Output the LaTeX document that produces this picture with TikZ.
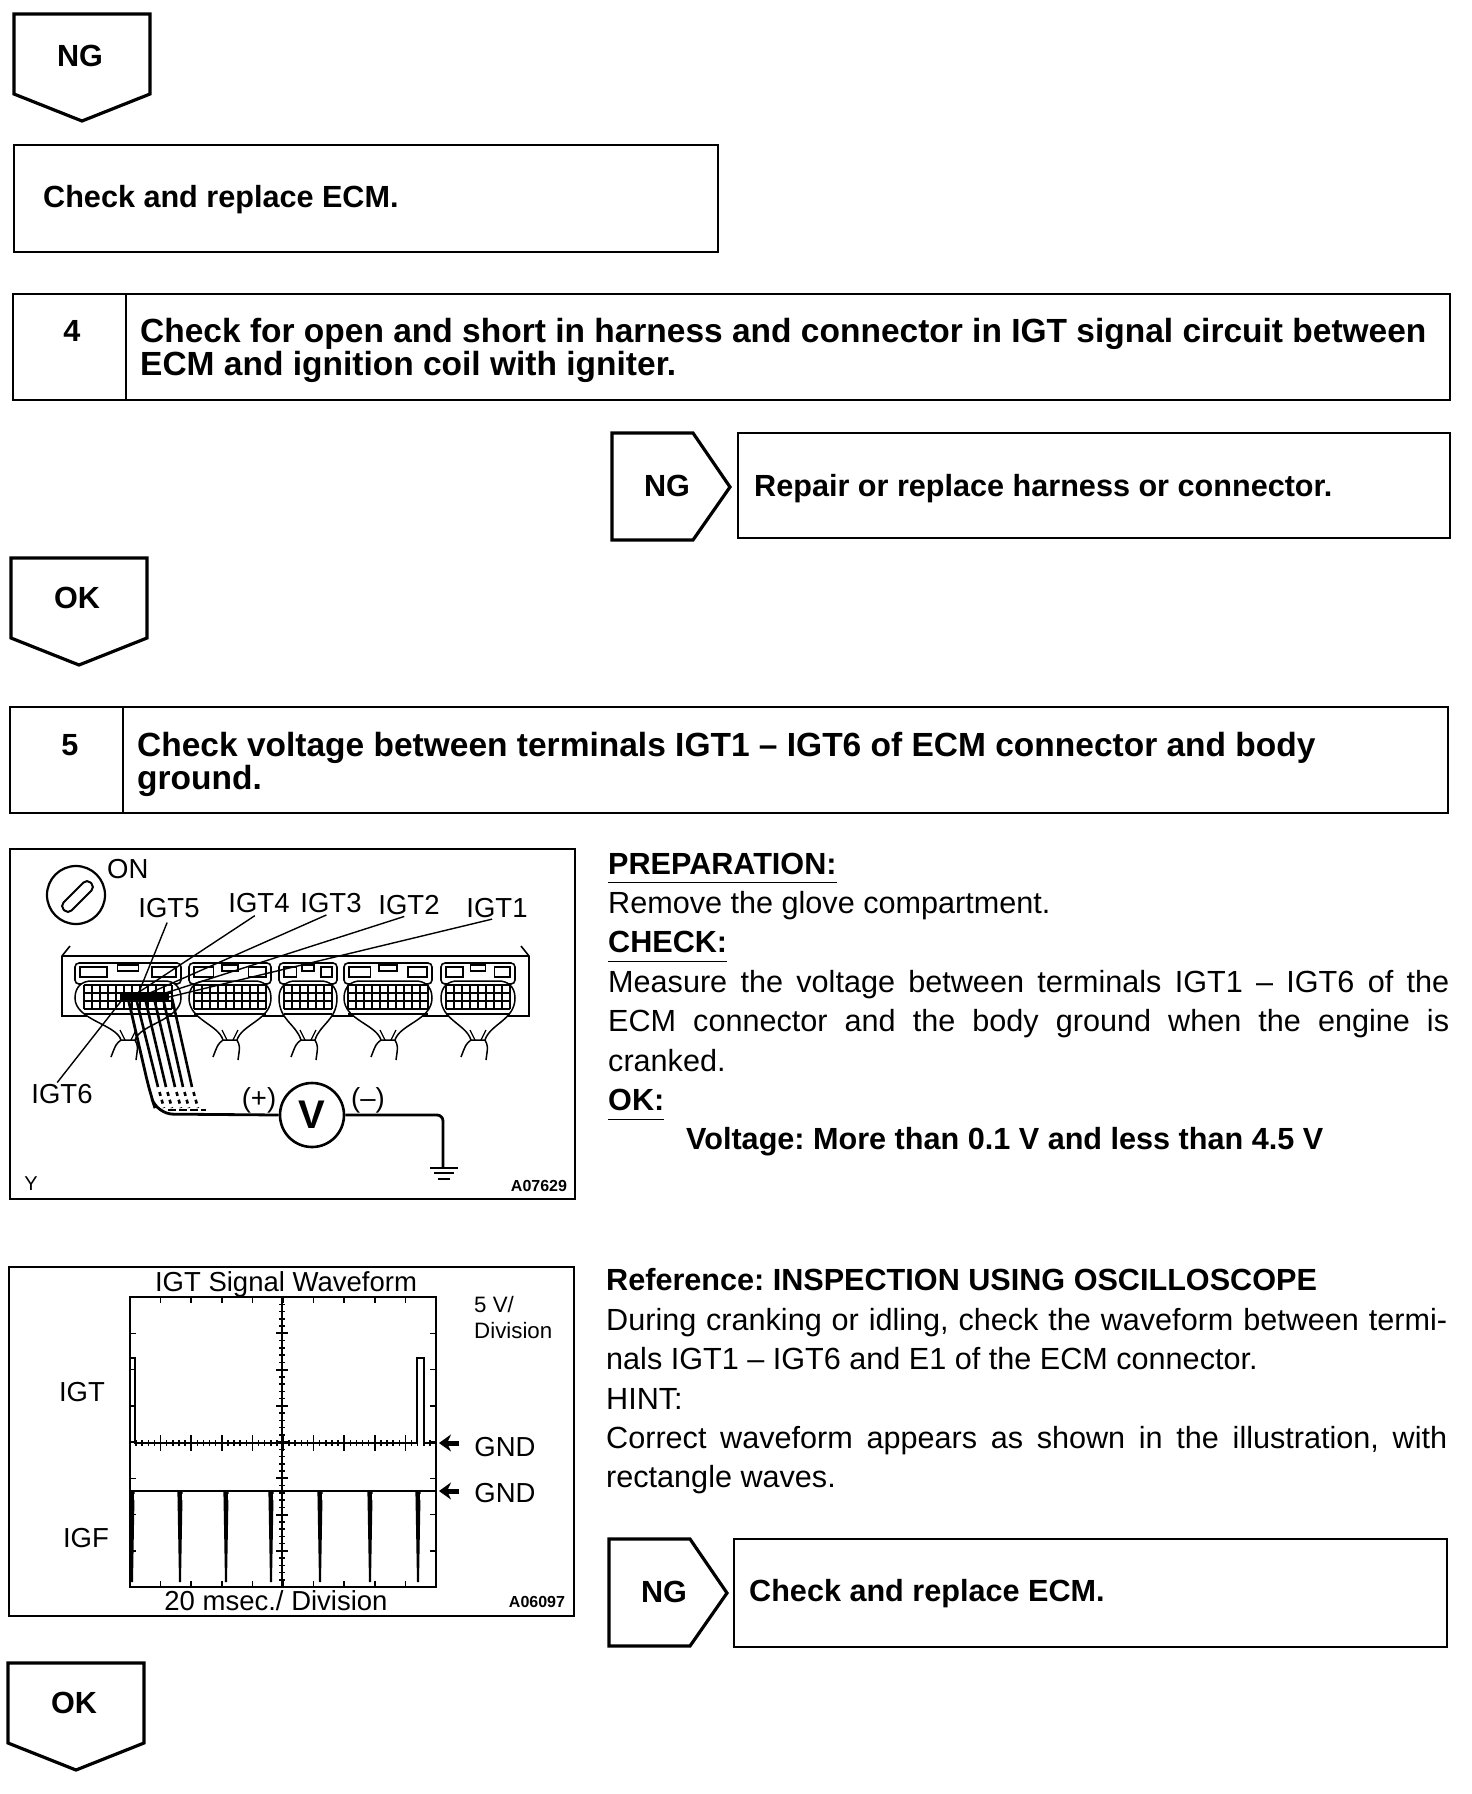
\documentclass[tikz,border=0pt]{standalone}
\usepackage{fontspec}
\setmainfont{Liberation Sans}
\frenchspacing
\usetikzlibrary{arrows.meta, positioning, calc}

\newcommand{\hdrline}[1]{\underline{#1\rule[-7pt]{0pt}{7pt}}}
\newcommand{\fullline}[1]{\makebox[841pt][s]{#1}}

\begin{document}
\begin{tikzpicture}[
    x=1pt, y=-1pt,
    flowbox/.style={rectangle, draw, line width=2.6pt, anchor=north west, inner sep=0pt, outer sep=0pt},
    flowline/.style={draw, line width=2.6pt},
    tagline/.style={draw, line width=3.2pt, line join=miter},
    headtext/.style={font=\fontsize{30.6}{33}\selectfont\bfseries, anchor=west, inner sep=0pt},
    steptext/.style={font=\fontsize{33.5}{33}\selectfont\bfseries, anchor=west, inner sep=0pt},
    tagtext/.style={font=\fontsize{30.6}{33}\selectfont\bfseries, inner sep=0pt},
    bodytext/.style={font=\fontsize{30.6}{39.4}\selectfont, anchor=north west, align=left, inner sep=0pt},
    figtext/.style={font=\fontsize{27.5}{30}\selectfont, inner sep=0pt},
    figcode/.style={font=\fontsize{16}{18}\selectfont\bfseries, inner sep=0pt},
    leader/.style={line width=1.4pt},
    scopeline/.style={line width=1.5pt}
]
\useasboundingbox (0,0) rectangle (1472,1794);

% Down tags
\foreach \px/\py/\ty/\lab in {14/14/56/NG, 11/558/598/OK, 8/1663/1703/OK} {
    \draw[tagline] (\px,\py) -- (\px+136,\py) -- (\px+136,\py+80) -- (\px+68,\py+107) -- (\px,\py+80) -- cycle;
    \node[tagtext] (down\py) at (\px+66,\ty) {\lab};
}

% Right tags
\foreach \px/\py in {612/433, 609/1539} {
    \draw[tagline] (\px,\py) -- (\px+81,\py) -- (\px+118,\py+54) -- (\px+81,\py+107) -- (\px,\py+107) -- cycle;
    \node[tagtext] (right\py) at (\px+55,\py+53) {NG};
}

% Boxes
\node[flowbox, minimum width=704pt, minimum height=107pt] (ecmbox) at (14,145) {};
\node[headtext, right=29pt] at ([yshift=-1pt]ecmbox.west) {Check and replace ECM.};

\node[flowbox, minimum width=1437pt, minimum height=106pt] (stepfour) at (13,294) {};
\draw[flowline] (126,294) -- (126,400);
\node[tagtext] (numfour) at (72,331) {4};
\node[steptext] (textfour) at (140,334) {Check for open and short in harness and connector in IGT signal circuit between};
\node[steptext] (textfourb) at (140,367) {ECM and ignition coil with igniter.};

\node[flowbox, minimum width=712pt, minimum height=105pt] (repairbox) at (738,433) {};
\node[headtext, right=16pt] at ([yshift=-3pt]repairbox.west) {Repair or replace harness or connector.};

\node[flowbox, minimum width=1438pt, minimum height=106pt] (stepfive) at (10,707) {};
\draw[flowline] (123,707) -- (123,813);
\node[tagtext] (numfive) at (70,745) {5};
\node[steptext] (textfive) at (137,748) {Check voltage between terminals IGT1 -- IGT6 of ECM connector and body};
\node[steptext] (textfiveb) at (137,781) {ground.};

\node[flowbox, minimum width=713pt, minimum height=108pt] (ecmboxb) at (734,1539) {};
\node[headtext, right=15pt] at ([yshift=-1pt]ecmboxb.west) {Check and replace ECM.};

% Right hand text
\node[bodytext] (prep) at (608,852.5) {%
    \textbf{\hdrline{PREPARATION:}}\\
    Remove the glove compartment.\\
    \textbf{\hdrline{CHECK:}}\\
    \fullline{Measure the voltage between terminals IGT1 -- IGT6 of the}\\
    \fullline{ECM connector and the body ground when the engine is}\\
    cranked.\\
    \textbf{\hdrline{OK:}}\\
    \hspace*{78pt}\textbf{Voltage: More than 0.1 V and less than 4.5 V}};
\node[bodytext] (refer) at (606,1268.5) {%
    \textbf{Reference: INSPECTION USING OSCILLOSCOPE}\\
    \fullline{During cranking or idling, check the waveform between termi-}\\
    nals IGT1 -- IGT6 and E1 of the ECM connector.\\
    HINT:\\
    \fullline{Correct waveform appears as shown in the illustration, with}\\
    rectangle waves.};

% Wiring figure
\node[flowbox, minimum width=565pt, minimum height=350pt] (wirefig) at (10,849) {};
\node[draw, circle, line width=2.2pt, minimum size=58pt, inner sep=0pt] (ignsw) at (76,895) {};
\draw[line width=2pt, rounded corners=5pt] (60,906) -- (87,879) -- (95,887) -- (68,914) -- cycle;
\node[figtext, right=2pt] (onlab) at (105,869) {ON};

% ECM connector
\draw[line width=1.6pt] (70,946) -- (62,956) -- (62,1016) -- (529,1016) -- (529,956) -- (521,946);
\draw[line width=1.6pt] (62,956) -- (529,956);
\foreach \cx/\hw/\nc in {128/53/11, 230/41/9, 308/29/6, 388/44/10, 478/37/8} {
    \draw[line width=1.6pt, fill=white, rounded corners=4pt] (\cx-\hw,963) rectangle (\cx+\hw,984);
    \draw[line width=1.5pt] (\cx-\hw+5,967) rectangle (\cx-\hw*0.4,977);
    \draw[line width=1.5pt] (\cx-\hw*0.2,965) rectangle (\cx+\hw*0.2,971);
    \draw[line width=1.5pt] (\cx+\hw*0.45,967) rectangle (\cx+\hw-5,977);
    \draw[line width=1.5pt, fill=white] (\cx-\hw,998) .. controls (\cx-\hw,986) and (\cx-\hw+8,981) .. (\cx-\hw+16,981)
        -- (\cx+\hw-16,981) .. controls (\cx+\hw-8,981) and (\cx+\hw,986) .. (\cx+\hw,998)
        .. controls (\cx+\hw,1020) and (\cx+12,1024) .. (\cx+7,1040)
        -- (\cx-7,1040) .. controls (\cx-12,1024) and (\cx-\hw,1020) .. (\cx-\hw,998) -- cycle;
    \foreach \i in {0,...,\nc} {
        \draw[line width=2pt] (\cx-\nc*4+\i*8,985) -- (\cx-\nc*4+\i*8,1009);
    }
    \foreach \gy in {985,993,1001,1009} {
        \draw[line width=2pt] (\cx-\nc*4,\gy) -- (\cx+\nc*4,\gy);
    }
    \draw[line width=2.2pt] (\cx-\nc*4,1014) -- (\cx+\nc*4,1014);
    \draw[line width=1.5pt] (\cx-7,1040) .. controls (\cx-12,1044) .. (\cx-17,1057);
    \draw[line width=1.5pt] (\cx+7,1040) .. controls (\cx+10,1046) .. (\cx+8,1060);
    \draw[line width=1.2pt] (\cx-3,1040) -- (\cx-8,1030);
    \draw[line width=1.2pt] (\cx+3,1040) -- (\cx+8,1030);
}

% Test leads
\fill (120,992) rectangle (169,1000);
\foreach \lx/\ex in {136/158, 145/166, 154/175, 163/183, 172/192} {
    \draw[line width=2.6pt] (\lx,998) -- (\ex,1087);
    \draw[line width=2.6pt, dash pattern=on 4pt off 4pt] (\ex+1.5,1092) -- (\ex+6,1108);
}
\draw[line width=2.2pt, dash pattern=on 8pt off 3pt] (168,1110) -- (206,1110);

% Voltmeter
\node[draw, circle, line width=2.6pt, minimum size=64pt, inner sep=0pt, font=\fontsize{40}{42}\selectfont\bfseries] (vmeter) at (312,1115) {V};
\coordinate (leadtop) at (128,998);
\coordinate (gndtop) at (443,1168);
\draw[line width=2.8pt, rounded corners=16pt] (leadtop) -- (150,1093) -- (157,1114) -- (vmeter.west);
\draw[line width=2.8pt, rounded corners=6pt] (vmeter.east) -- (443,1115) -- (gndtop);
\draw[line width=2.4pt] (430,1168) -- (458,1168);
\draw[line width=1.5pt] (434,1173) -- (454,1173);
\draw[line width=1.5pt] (438,1179) -- (450,1179);
\node[figtext] (plus) at (259,1100) {(+)};
\node[figtext] (minus) at (368,1100) {(--)};

% Terminal labels
\foreach \lname/\lx/\ly/\tx/\ty in {IGT5/169/908/139/992, IGT4/259/903/133/996, IGT3/331/903/143/996, IGT2/409/905/156/996, IGT1/497/908/169/997} {
    \node[figtext] (\lname) at (\lx,\ly) {\lname};
    \coordinate (pin\lname) at (\tx,\ty);
    \draw[leader, shorten <=5pt] (\lname.south) -- (pin\lname);
}
\node[figtext] (IGT6) at (62,1094) {IGT6};
\coordinate (pinIGT6) at (122,1000);
\draw[leader, shorten <=2pt] (IGT6.north) ++(-6,0) -- (pinIGT6);
\node[figtext, font=\fontsize{20}{24}\selectfont] (ylab) at (31,1184) {Y};
\node[figcode] (acode) at (539,1186) {A07629};

% Waveform figure
\node[flowbox, minimum width=565pt, minimum height=349pt] (wavefig) at (9,1267) {};
\node[flowbox, line width=2pt, minimum width=306pt, minimum height=290pt] (screen) at (130,1297) {};
\foreach \i in {1,...,9} {
    \draw[scopeline] (130+\i*30.6,1297) -- (130+\i*30.6,1303);
    \draw[scopeline] (130+\i*30.6,1587) -- (130+\i*30.6,1581);
}
\foreach \i in {1,...,7} {
    \draw[scopeline] (130,1297+\i*36.25) -- (136,1297+\i*36.25);
    \draw[scopeline] (436,1297+\i*36.25) -- (430,1297+\i*36.25);
    \draw[line width=2pt] (276,1297+\i*36.25) -- (288,1297+\i*36.25);
}
\foreach \i in {1,...,39} {
    \draw[scopeline] (279,1297+\i*7.25) -- (285,1297+\i*7.25);
}
\foreach \i in {1,...,49} {
    \draw[scopeline] (130+\i*6.12,1440) -- (130+\i*6.12,1446);
}
\foreach \i in {1,...,9} {
    \draw[scopeline] (130+\i*30.6,1435) -- (130+\i*30.6,1451);
}
\draw[line width=1.8pt] (282,1297) -- (282,1587);
\draw[line width=2.6pt] (130,1358) -- (135,1358) -- (135,1443) -- (417,1443) -- (417,1358) -- (424,1358) -- (424,1443) -- (436,1443);
\draw[line width=2.6pt] (130,1491) -- (436,1491);
\foreach \sx in {132,180,226,271,320,370,418} {
    \fill (\sx-2.6,1491) -- (\sx+2.6,1491) -- (\sx+1,1582) -- (\sx-1,1582) -- cycle;
    \fill[white] (\sx+2.4,1493.5) rectangle (\sx+5,1500);
}
\node[figtext] (igtlab) at (82,1392) {IGT};
\node[figtext] (igflab) at (86,1538) {IGF};
\node[figtext] (wavetitle) at (286,1284) {IGT Signal Waveform};
\node[figtext] (timelab) at (276,1601) {20 msec./ Division};
\node[figtext, font=\fontsize{22.3}{26.5}\selectfont, align=left, anchor=north west] (voltlab) at (474,1296) {5 V/\\Division};
\node[figtext] (gndone) at (505,1447) {GND};
\node[figtext] (gndtwo) at (505,1493) {GND};
\coordinate (gndonept) at (439,1443);
\coordinate (gndtwopt) at (439,1491);
\draw[-{Stealth[length=12pt,width=17pt]}, line width=5pt] (gndone.west) ++(-15,-4) -- (gndonept);
\draw[-{Stealth[length=12pt,width=17pt]}, line width=5pt] (gndtwo.west) ++(-15,-2) -- (gndtwopt);
\node[figcode] (bcode) at (537,1602) {A06097};

\end{tikzpicture}
\end{document}
